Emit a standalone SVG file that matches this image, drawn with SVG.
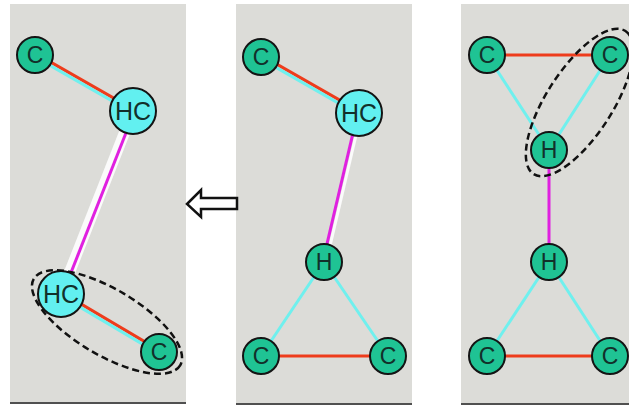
<svg xmlns="http://www.w3.org/2000/svg" width="629" height="407" viewBox="0 0 629 407">
<style>
.panel{fill:#dcdcd8}
.base{stroke:#505050;stroke-width:2}
.red{stroke:#ee3c1c;stroke-width:3;fill:none}
.cy{stroke:#6ff0ee;stroke-width:3;fill:none}
.mag{stroke:#e020e0;stroke-width:3;fill:none}
.wht{stroke:#fbfbfb;fill:none}
.g{fill:#1fc394;stroke:#141414;stroke-width:2}
.c{fill:#62f0f0;stroke:#141414;stroke-width:2}
.t{font-family:"Liberation Sans",Arial,sans-serif;font-size:23px;fill:#12302a;text-anchor:middle}
.th{font-size:25px}
.ell{fill:none;stroke:#111;stroke-width:2.5;stroke-dasharray:7 4}
</style>
<rect width="629" height="407" fill="#ffffff"/>
<rect class="panel" x="10" y="4" width="176" height="398"/>
<line class="base" x1="10" y1="403" x2="186" y2="403"/>
<rect class="panel" x="236" y="4" width="176" height="399"/>
<line class="base" x1="236" y1="404" x2="412" y2="404"/>
<rect class="panel" x="461" y="4" width="168" height="399"/>
<line class="base" x1="461" y1="404" x2="629" y2="404"/>

<g id="connectors">
  <line class="red" x1="35.8" y1="53.6" x2="133.8" y2="109.6"/>
  <line class="cy" x1="34.2" y1="56.4" x2="132.2" y2="112.4"/>
  <line class="wht" stroke-width="11" x1="133" y1="111" x2="61" y2="294"/>
  <line class="mag" x1="134.4" y1="111.5" x2="62.4" y2="294.5"/>
  <line class="red" x1="61.8" y1="292.6" x2="159.8" y2="350.6"/>
  <line class="cy" x1="60.2" y1="295.4" x2="158.2" y2="353.4"/>

  <line class="red" x1="261.8" y1="55.6" x2="359.8" y2="111.6"/>
  <line class="cy" x1="260.2" y1="58.4" x2="358.2" y2="114.4"/>
  <line class="wht" stroke-width="3" x1="361.1" y1="113.5" x2="326.1" y2="262.5"/>
  <line class="mag" x1="357.8" y1="112.7" x2="322.8" y2="261.7"/>
  <line class="cy" x1="324" y1="262" x2="261" y2="356"/>
  <line class="cy" x1="324" y1="262" x2="388" y2="356"/>
  <line class="red" x1="261" y1="356" x2="388" y2="356"/>

  <line class="red" x1="487" y1="55" x2="610" y2="55"/>
  <line class="cy" x1="487" y1="55" x2="549" y2="150"/>
  <line class="cy" x1="610" y1="55" x2="549" y2="150"/>
  <line class="mag" x1="549" y1="150" x2="549" y2="262"/>
  <line class="cy" x1="549" y1="262" x2="487" y2="356"/>
  <line class="cy" x1="549" y1="262" x2="610" y2="356"/>
  <line class="red" x1="487" y1="356" x2="610" y2="356"/>
</g>

<g id="p1-c1"><circle class="g" cx="35" cy="55" r="18"/><text class="t" x="35" y="63">C</text></g>
<g id="p1-hc1"><circle class="c" cx="133" cy="111" r="23"/><text class="t th" x="133" y="120">HC</text></g>
<g id="p1-hc2"><circle class="c" cx="61" cy="294" r="23"/><text class="t th" x="61" y="303">HC</text></g>
<g id="p1-c2"><circle class="g" cx="159" cy="352" r="18"/><text class="t" x="159" y="360">C</text></g>

<g id="p2-c1"><circle class="g" cx="261" cy="57" r="18"/><text class="t" x="261" y="65">C</text></g>
<g id="p2-hc"><circle class="c" cx="359" cy="113" r="23"/><text class="t th" x="359" y="122">HC</text></g>
<g id="p2-h"><circle class="g" cx="324" cy="262" r="18"/><text class="t" x="324" y="270">H</text></g>
<g id="p2-c2"><circle class="g" cx="261" cy="356" r="18"/><text class="t" x="261" y="364">C</text></g>
<g id="p2-c3"><circle class="g" cx="388" cy="356" r="18"/><text class="t" x="388" y="364">C</text></g>

<g id="p3-c1"><circle class="g" cx="487" cy="55" r="18"/><text class="t" x="487" y="63">C</text></g>
<g id="p3-c2"><circle class="g" cx="610" cy="55" r="18"/><text class="t" x="610" y="63">C</text></g>
<g id="p3-h1"><circle class="g" cx="549" cy="150" r="18"/><text class="t" x="549" y="158">H</text></g>
<g id="p3-h2"><circle class="g" cx="549" cy="262" r="18"/><text class="t" x="549" y="270">H</text></g>
<g id="p3-c3"><circle class="g" cx="487" cy="356" r="18"/><text class="t" x="487" y="364">C</text></g>
<g id="p3-c4"><circle class="g" cx="610" cy="356" r="18"/><text class="t" x="610" y="364">C</text></g>

<g id="groups">
  <ellipse class="ell" cx="107" cy="322" rx="85" ry="33" transform="rotate(30.6 107 322)"/>
  <ellipse class="ell" cx="579.5" cy="102.5" rx="85" ry="33" transform="rotate(-57.3 579.5 102.5)"/>
</g>

<g id="arrow">
  <path d="M187,204 L201,190 L201,198 L237,198 L237,209 L201,209 L201,217 Z" fill="#ffffff" stroke="#111" stroke-width="2.5" stroke-linejoin="miter"/>
</g>
</svg>
